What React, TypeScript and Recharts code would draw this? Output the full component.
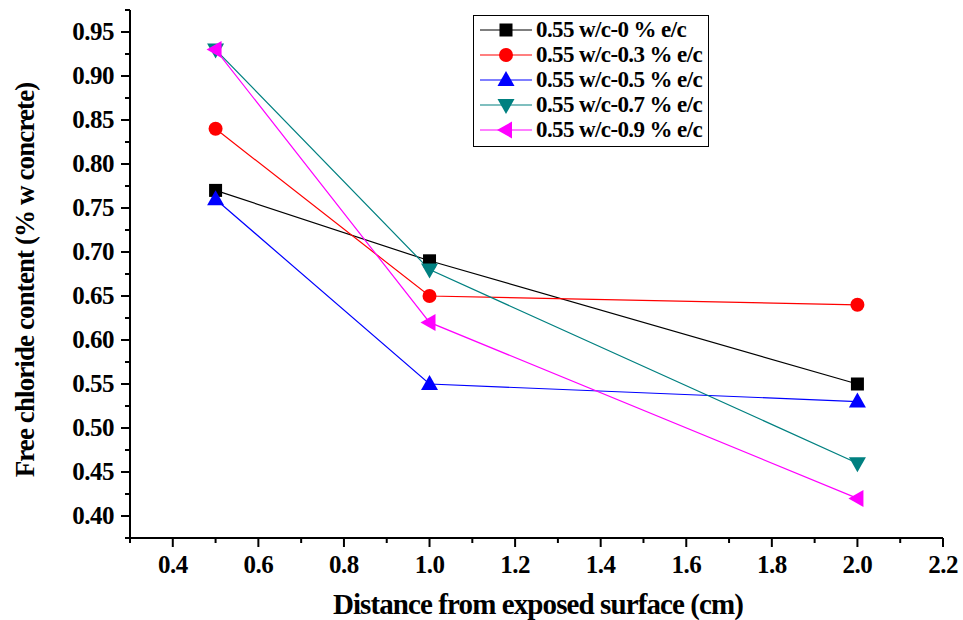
import { LineChart, Line, XAxis, YAxis, Legend } from "recharts";

const distances = [0.5, 1.0, 2.0];
const ec00 = [0.77, 0.69, 0.55];
const ec03 = [0.84, 0.65, 0.64];
const ec05 = [0.76, 0.55, 0.53];
const ec07 = [0.93, 0.68, 0.46];
const ec09 = [0.93, 0.62, 0.42];

const xMajor = [0.4, 0.6, 0.8, 1.0, 1.2, 1.4, 1.6, 1.8, 2.0, 2.2];
const xMinor = [0.3, 0.5, 0.7, 0.9, 1.1, 1.3, 1.5, 1.7, 1.9, 2.1];
const yMajor = [0.4, 0.45, 0.5, 0.55, 0.6, 0.65, 0.7, 0.75, 0.8, 0.85, 0.9, 0.95];
const yMinor = [0.375, 0.425, 0.475, 0.525, 0.575, 0.625, 0.675, 0.725, 0.775, 0.825, 0.875, 0.925, 0.975];

const data = distances.map((d, i) => ({
  x: d,
  s0: ec00[i],
  s3: ec03[i],
  s5: ec05[i],
  s7: ec07[i],
  s9: ec09[i],
}));

const series = [
  { key: "s0", name: "0.55 w/c-0 % e/c", color: "#000000", kind: "square" },
  { key: "s3", name: "0.55 w/c-0.3 % e/c", color: "#ff0000", kind: "circle" },
  { key: "s5", name: "0.55 w/c-0.5 % e/c", color: "#0000ff", kind: "up" },
  { key: "s7", name: "0.55 w/c-0.7 % e/c", color: "#008080", kind: "down" },
  { key: "s9", name: "0.55 w/c-0.9 % e/c", color: "#ff00ff", kind: "left" },
];

const font = "'Liberation Serif', 'Times New Roman', serif";

function Marker({ cx, cy, kind, color }: any) {
  if (cx == null || cy == null) return null;
  if (kind === "square")
    return <rect x={cx - 6.5} y={cy - 6.5} width={13} height={13} fill={color} />;
  if (kind === "circle") return <circle cx={cx} cy={cy} r={7} fill={color} />;
  let pts = "";
  if (kind === "up") pts = `${cx},${cy - 9} ${cx - 8.5},${cy + 6} ${cx + 8.5},${cy + 6}`;
  if (kind === "down") pts = `${cx},${cy + 9} ${cx - 8.5},${cy - 6} ${cx + 8.5},${cy - 6}`;
  if (kind === "left") pts = `${cx - 9},${cy} ${cx + 6},${cy - 8.5} ${cx + 6},${cy + 8.5}`;
  return <polygon points={pts} fill={color} />;
}

const isMajor = (v: number, list: number[]) => list.some((m) => Math.abs(m - v) < 1e-6);

function XTick({ x, y, payload }: any) {
  const major = isMajor(payload.value, xMajor);
  return (
    <g>
      <line x1={x} y1={y} x2={x} y2={y + (major ? 9 : 5)} stroke="#000" strokeWidth={2} />
      {major && (
        <text x={x} y={y + 35} textAnchor="middle" fontFamily={font} fontWeight="bold" fontSize={25} letterSpacing={-0.5} fill="#000">
          {payload.value.toFixed(1)}
        </text>
      )}
    </g>
  );
}

function YTick({ x, y, payload }: any) {
  const major = isMajor(payload.value, yMajor);
  return (
    <g>
      <line x1={x} y1={y} x2={x - (major ? 9 : 5)} y2={y} stroke="#000" strokeWidth={2} />
      {major && (
        <text x={x - 16} y={y + 8} textAnchor="end" fontFamily={font} fontWeight="bold" fontSize={25} letterSpacing={-0.5} fill="#000">
          {payload.value.toFixed(2)}
        </text>
      )}
    </g>
  );
}

function LegendBox({ payload }: any) {
  return (
    <div style={{ border: "1.5px solid #000", background: "#fff", padding: "1px 2px 3px 4px", width: 228 }}>
      {(payload || []).map((p: any) => {
        const s = series.find((q) => q.key === p.dataKey)!;
        return (
          <div key={s.key} style={{ display: "flex", alignItems: "center", height: 25.2 }}>
            <svg width={56} height={22}>
              <line x1={2} y1={11} x2={54} y2={11} stroke={s.color} strokeWidth={1.2} />
              <Marker cx={28} cy={11} kind={s.kind} color={s.color} />
            </svg>
            <span style={{ fontFamily: font, fontWeight: "bold", fontSize: 23, marginLeft: 2, whiteSpace: "nowrap", letterSpacing: -0.6 }}>
              {s.name}
            </span>
          </div>
        );
      })}
    </div>
  );
}

export default function App() {
  return (
    <div style={{ position: "absolute", left: 0, top: 0, width: 963, height: 620, background: "#fff" }}>
      <LineChart width={963} height={620} data={data} margin={{ top: 10, right: 20, bottom: 0, left: 0 }}>
        <XAxis
          type="number"
          dataKey="x"
          domain={[0.3, 2.2]}
          ticks={[...xMinor, ...xMajor].sort((a, b) => a - b)}
          interval={0}
          height={82}
          tickSize={0}
          tickMargin={0}
          tickLine={false}
          tick={<XTick />}
          axisLine={{ stroke: "#000", strokeWidth: 2 }}
          allowDataOverflow
        />
        <YAxis
          type="number"
          domain={[0.375, 0.975]}
          ticks={[...yMinor, ...yMajor].sort((a, b) => a - b)}
          interval={0}
          width={130}
          tickSize={0}
          tickMargin={0}
          tickLine={false}
          tick={<YTick />}
          axisLine={{ stroke: "#000", strokeWidth: 2 }}
          allowDataOverflow
        />
        {series.map((s) => (
          <Line
            key={s.key}
            dataKey={s.key}
            name={s.name}
            stroke={s.color}
            strokeWidth={1.2}
            isAnimationActive={false}
            dot={(p: any) => <Marker key={`${s.key}-${p.index}`} cx={p.cx} cy={p.cy} kind={s.kind} color={s.color} />}
            activeDot={false}
          />
        ))}
        <Legend
          layout="vertical"
          align="center"
          verticalAlign="middle"
          content={<LegendBox />}
          wrapperStyle={{ position: "absolute", left: 473, top: 15, width: "auto", height: "auto" }}
        />
      </LineChart>
      <div
        style={{
          position: "absolute",
          left: 538,
          top: 604,
          transform: "translate(-50%, -50%)",
          fontFamily: font,
          fontWeight: "bold",
          fontSize: 29,
          letterSpacing: -0.9,
          whiteSpace: "nowrap",
        }}
      >
        Distance from exposed surface (cm)
      </div>
      <div
        style={{
          position: "absolute",
          left: 25,
          top: 280,
          transform: "translate(-50%, -50%) rotate(-90deg)",
          fontFamily: font,
          fontWeight: "bold",
          fontSize: 27,
          letterSpacing: -0.9,
          whiteSpace: "nowrap",
        }}
      >
        Free chloride content (% w concrete)
      </div>
    </div>
  );
}
